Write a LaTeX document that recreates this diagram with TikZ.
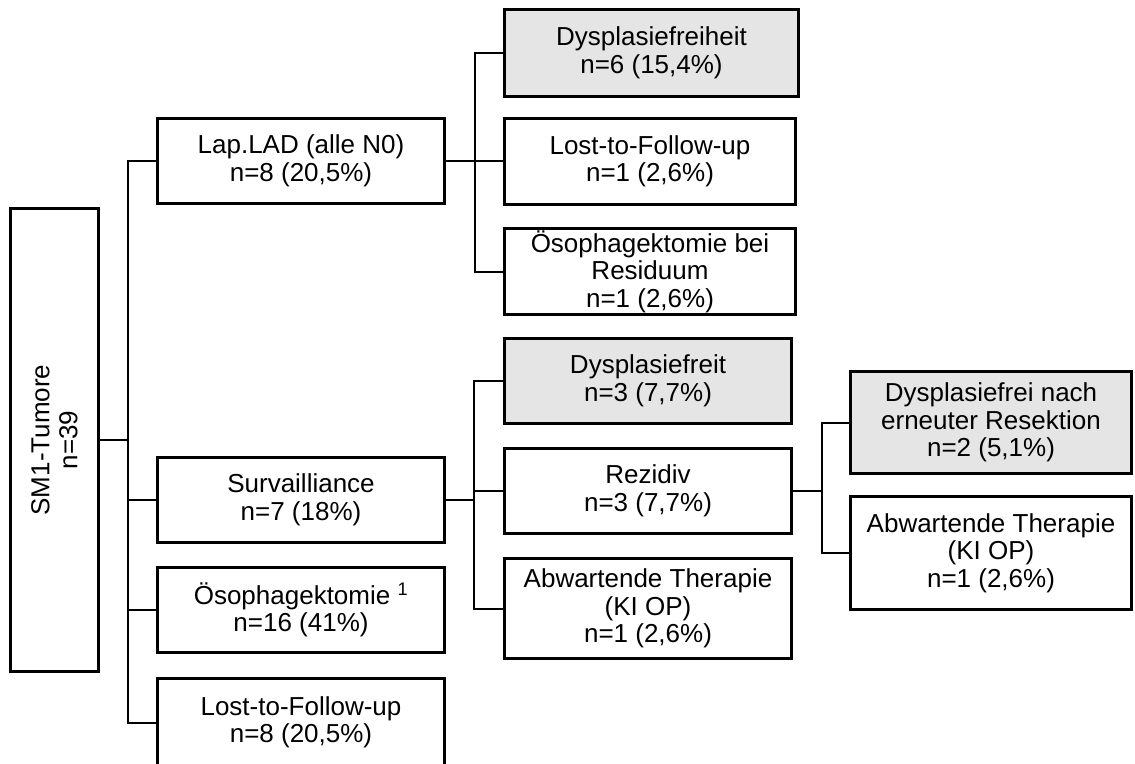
\documentclass[tikz,border=0pt]{standalone}
\usepackage{fontspec}
\setmainfont{Liberation Sans}
\begin{document}
\begin{tikzpicture}[x=1pt,y=-1pt,
  box/.style={draw, line width=3pt, align=center, inner sep=0pt,
              font=\fontsize{26}{27.5}\selectfont},
  shaded/.style={box, fill=black!10},
  lvlone/.style={box, minimum width=287, minimum height=85},
  conn/.style={line width=2pt}]
\useasboundingbox (0,0) rectangle (1135,763);

% root
\node[box, minimum width=88, minimum height=463] (root) at (54.5,440) {};
\node[rotate=90, align=center, inner sep=0pt, font=\fontsize{26}{28}\selectfont]
  (rootlabel) at (root.center) {SM1-Tumore\\n=39};

% first level
\node[lvlone] (lap)  at (301,161) {Lap.LAD (alle N0)\\n=8 (20,5\%)};
\node[lvlone] (surv) at (301,500) {Survailliance\\n=7 (18\%)};
\node[lvlone] (oeso) at (301,610) {Ösophagektomie \textsuperscript{1}\\n=16 (41\%)};
\node[lvlone, minimum height=88] (lost) at (301,722.5) {Lost-to-Follow-up\\n=8 (20,5\%)};

% second level after Lap.LAD
\node[shaded, minimum width=294, minimum height=87] (dfh) at (651.5,53) {Dysplasiefreiheit\\n=6 (15,4\%)};
\node[box, minimum width=291, minimum height=86] (ltf) at (650,161.5) {Lost-to-Follow-up\\n=1 (2,6\%)};
\node[box, minimum width=291, minimum height=86] (oebr) at (650,271.5) {Ösophagektomie bei\\Residuum\\n=1 (2,6\%)};

% second level after surveillance
\node[shaded, minimum width=287, minimum height=85] (dff) at (648,381) {Dysplasiefreit\\n=3 (7,7\%)};
\node[box, minimum width=287, minimum height=85] (rez) at (648,491) {Rezidiv\\n=3 (7,7\%)};
\node[box, minimum width=287, minimum height=100] (abw) at (648,608.5) {Abwartende Therapie\\(KI OP)\\n=1 (2,6\%)};

% third level after recurrence
\node[shaded, minimum width=281, minimum height=102] (dfn) at (991,422.5) {Dysplasiefrei nach\\erneuter Resektion\\n=2 (5,1\%)};
\node[box, minimum width=281, minimum height=113] (abwz) at (991,553) {Abwartende Therapie\\(KI OP)\\n=1 (2,6\%)};

% bus lines
\coordinate (busa) at (128,0);
\coordinate (busb) at (475,0);
\coordinate (busc) at (474,0);
\coordinate (busd) at (822,0);

\draw[line width=2.5pt] (root.east) -- (root.east -| busa);
\draw[conn] (lap.west) -| (busa |- lost.west) -- (lost.west);
\draw[conn] (surv.west) -- (surv.west -| busa);
\draw[conn] (oeso.west) -- (oeso.west -| busa);

\draw[conn] (lap.east) -- (lap.east -| ltf.west);
\draw[conn] (dfh.west) -| (busb |- oebr.west) -- (oebr.west);

\draw[conn] (surv.east) -- (surv.east -| busc);
\draw[conn] (dff.west) -| (busc |- abw.west) -- (abw.west);
\draw[conn] (rez.west) -- (rez.west -| busc);

\draw[conn] (rez.east) -- (rez.east -| busd);
\draw[conn] (dfn.west) -| (busd |- abwz.west) -- (abwz.west);
\end{tikzpicture}
\end{document}
